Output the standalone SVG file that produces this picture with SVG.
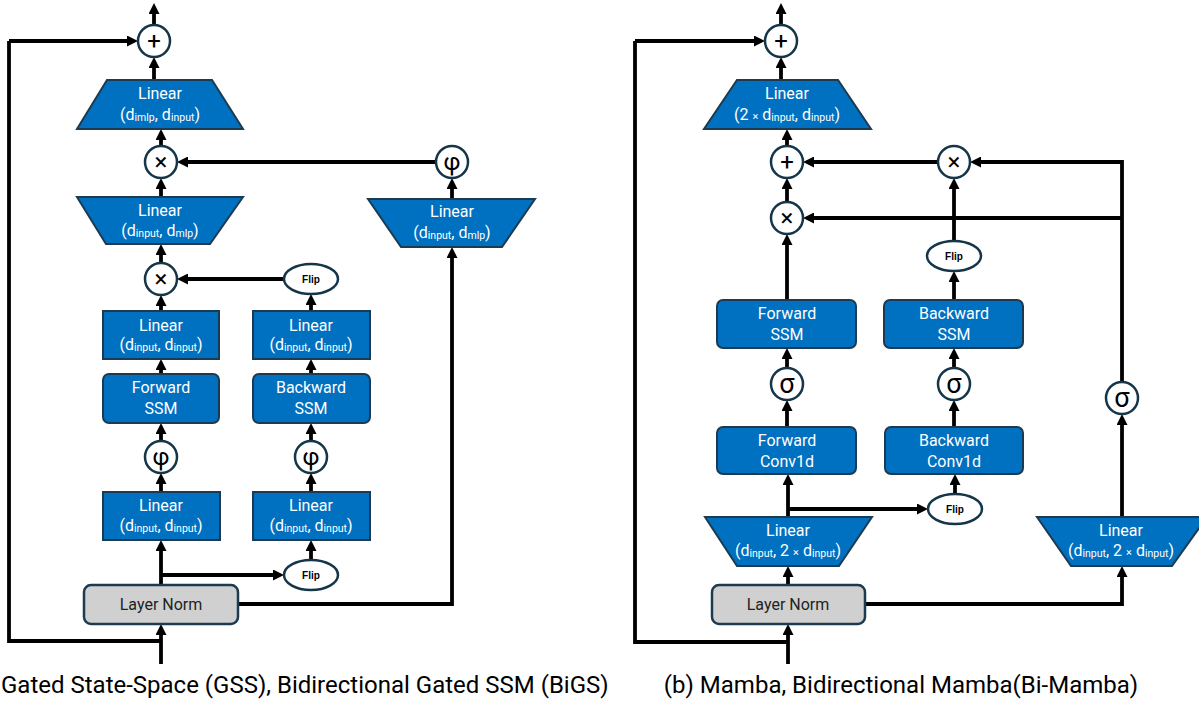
<svg xmlns="http://www.w3.org/2000/svg" width="1199" height="704" viewBox="0 0 1199 704">
<defs>
<marker id="ah" viewBox="0 0 11 11" refX="0" refY="5.5" markerWidth="11" markerHeight="11" markerUnits="userSpaceOnUse" orient="auto"><path d="M0,0 L11,5.5 L0,11 z" fill="#000"/></marker>
<style>
.blk{fill:#0070c0;stroke:#1d3b50;stroke-width:2}
.gray{fill:#d0d0d0;stroke:#1d3b50;stroke-width:2.5}
.op{fill:#fff;stroke:#153549;stroke-width:2.5}
.fl{fill:#fff;stroke:#153549;stroke-width:2.5}
text{font-family:Roboto,"Liberation Sans",sans-serif;text-anchor:middle}
.w{fill:#fff;font-size:16px}
.s{font-size:10.5px}
.x{font-size:11px}
.k{fill:#222;font-size:16px}
.sym{fill:#000;font-size:24px}
.sig{fill:#000;font-size:27px}
.flp{font-family:"Liberation Sans",Arial,sans-serif;font-weight:bold;font-size:10px;fill:#000}
.cap{fill:#000;font-size:24px}
.c{fill:none;stroke:#000;stroke-width:3.8;marker-end:url(#ah)}
.n{fill:none;stroke:#000;stroke-width:3.8}
</style>
</defs>

<g id="connectors">
<!-- left -->
<path class="c" d="M154,25 V14"/>
<path class="n" d="M161,641 H9 V41"/>
<path class="c" d="M9,41 H127"/>
<path class="c" d="M161,664 V635"/>
<path class="c" d="M154,80 V68"/>
<path class="c" d="M161,197 V189"/>
<path class="c" d="M161,146 V140"/>
<path class="c" d="M161,263 V255"/>
<path class="c" d="M161,311 V306"/>
<path class="c" d="M161,374 V370"/>
<path class="c" d="M161,441 V434"/>
<path class="c" d="M161,492 V484"/>
<path class="c" d="M161,585 V551"/>
<path class="c" d="M161,575 H273"/>
<path class="c" d="M311,560 V551"/>
<path class="c" d="M311,492 V484"/>
<path class="c" d="M311,441 V434"/>
<path class="c" d="M311,374 V370"/>
<path class="c" d="M311,311 V305"/>
<path class="c" d="M284,279 H188"/>
<path class="c" d="M238,604 H452 V258"/>
<path class="c" d="M452,199 V189"/>
<path class="c" d="M436,162 H188"/>
<!-- right -->
<path class="c" d="M781,25 V14"/>
<path class="n" d="M788,642 H635 V41"/>
<path class="c" d="M635,41 H754"/>
<path class="c" d="M788,664 V635"/>
<path class="c" d="M781,80 V68"/>
<path class="c" d="M787,146 V140"/>
<path class="c" d="M787,202 V189"/>
<path class="c" d="M787,300 V245"/>
<path class="c" d="M787,368 V359"/>
<path class="c" d="M787,427 V411"/>
<path class="c" d="M788,517 V485"/>
<path class="c" d="M788,509 H917"/>
<path class="c" d="M788,585 V577"/>
<path class="c" d="M955,493 V485"/>
<path class="c" d="M954,427 V411"/>
<path class="c" d="M954,368 V359"/>
<path class="c" d="M954,300 V282"/>
<path class="c" d="M954,241 V189"/>
<path class="c" d="M938,162 H814"/>
<path class="c" d="M1122,382 V162 H981"/>
<path class="c" d="M1122,218 H814"/>
<path class="c" d="M1122,517 V425"/>
<path class="c" d="M865,604 H1122 V577"/>
</g>

<!-- left diagram nodes -->
<g id="L_add"><circle class="op" cx="154" cy="41" r="16"/><text class="sym" x="154" y="49">+</text></g>
<g id="L_linOut"><polygon class="blk" points="107,80 212,80 243,129 77,129"/><text class="w" x="160" y="99">Linear</text><text class="w" x="160" y="120">(d<tspan class="s" dy="1">imlp</tspan><tspan dy="-1">, d</tspan><tspan class="s" dy="1">input</tspan><tspan dy="-1">)</tspan></text></g>
<g id="L_mul1"><circle class="op" cx="161" cy="162" r="16"/><text class="sym" x="161" y="170">×</text></g>
<g id="L_linMlp"><polygon class="blk" points="77,197 243,197 210,244 106,244"/><text class="w" x="160" y="216">Linear</text><text class="w" x="160" y="236">(d<tspan class="s" dy="1">input</tspan><tspan dy="-1">, d</tspan><tspan class="s" dy="1">mlp</tspan><tspan dy="-1">)</tspan></text></g>
<g id="L_mul2"><circle class="op" cx="161" cy="279" r="16"/><text class="sym" x="161" y="287">×</text></g>
<g id="L_flipTop"><ellipse class="fl" cx="311" cy="279" rx="27" ry="15"/><text class="flp" x="311" y="283">Flip</text></g>
<g id="L_linF"><rect class="blk" x="103" y="311" width="116" height="48"/><text class="w" x="161" y="331">Linear</text><text class="w" x="161" y="350">(d<tspan class="s" dy="1">input</tspan><tspan dy="-1">, d</tspan><tspan class="s" dy="1">input</tspan><tspan dy="-1">)</tspan></text></g>
<g id="L_linB"><rect class="blk" x="253" y="311" width="117" height="48"/><text class="w" x="311" y="331">Linear</text><text class="w" x="311" y="350">(d<tspan class="s" dy="1">input</tspan><tspan dy="-1">, d</tspan><tspan class="s" dy="1">input</tspan><tspan dy="-1">)</tspan></text></g>
<g id="L_ssmF"><rect class="blk" x="103" y="374" width="116" height="49" rx="6"/><text class="w" x="161" y="393">Forward</text><text class="w" x="161" y="414">SSM</text></g>
<g id="L_ssmB"><rect class="blk" x="253" y="374" width="117" height="49" rx="6"/><text class="w" x="311" y="393">Backward</text><text class="w" x="311" y="414">SSM</text></g>
<g id="L_phiF"><circle class="op" cx="161" cy="457" r="16"/><text class="sym" x="161" y="465">φ</text></g>
<g id="L_phiB"><circle class="op" cx="311" cy="457" r="16"/><text class="sym" x="311" y="465">φ</text></g>
<g id="L_linF2"><rect class="blk" x="103" y="492" width="117" height="48"/><text class="w" x="161" y="511">Linear</text><text class="w" x="161" y="531">(d<tspan class="s" dy="1">input</tspan><tspan dy="-1">, d</tspan><tspan class="s" dy="1">input</tspan><tspan dy="-1">)</tspan></text></g>
<g id="L_linB2"><rect class="blk" x="253" y="492" width="117" height="48"/><text class="w" x="311" y="511">Linear</text><text class="w" x="311" y="531">(d<tspan class="s" dy="1">input</tspan><tspan dy="-1">, d</tspan><tspan class="s" dy="1">input</tspan><tspan dy="-1">)</tspan></text></g>
<g id="L_flipBot"><ellipse class="fl" cx="311" cy="575" rx="27" ry="15"/><text class="flp" x="311" y="579">Flip</text></g>
<g id="L_norm"><rect class="gray" x="84" y="585" width="154" height="39" rx="7"/><text class="k" x="161" y="610">Layer Norm</text></g>
<g id="L_linGate"><polygon class="blk" points="368,199 535,199 502,247 401,247"/><text class="w" x="452" y="217">Linear</text><text class="w" x="452" y="238">(d<tspan class="s" dy="1">input</tspan><tspan dy="-1">, d</tspan><tspan class="s" dy="1">mlp</tspan><tspan dy="-1">)</tspan></text></g>
<g id="L_phiG"><circle class="op" cx="452" cy="162" r="16"/><text class="sym" x="452" y="170">φ</text></g>
<g id="L_caption"><text class="cap" x="1" y="693" style="text-anchor:start">Gated State-Space (GSS), Bidirectional Gated SSM (BiGS)</text></g>

<!-- right diagram nodes -->
<g id="R_add"><circle class="op" cx="781" cy="41" r="16"/><text class="sym" x="781" y="49">+</text></g>
<g id="R_linOut"><polygon class="blk" points="737,80 838,80 871,129 704,129"/><text class="w" x="787" y="99">Linear</text><text class="w" x="787" y="120">(2 <tspan class="x">×</tspan> d<tspan class="s" dy="1">input</tspan><tspan dy="-1">, d</tspan><tspan class="s" dy="1">input</tspan><tspan dy="-1">)</tspan></text></g>
<g id="R_add2"><circle class="op" cx="787" cy="162" r="16"/><text class="sym" x="787" y="170">+</text></g>
<g id="R_mul"><circle class="op" cx="787" cy="218" r="16"/><text class="sym" x="787" y="226">×</text></g>
<g id="R_mulB"><circle class="op" cx="954" cy="162" r="16"/><text class="sym" x="954" y="170">×</text></g>
<g id="R_flipTop"><ellipse class="fl" cx="954" cy="256" rx="27" ry="15"/><text class="flp" x="954" y="260">Flip</text></g>
<g id="R_ssmF"><rect class="blk" x="717" y="300" width="139" height="48" rx="6"/><text class="w" x="787" y="319">Forward</text><text class="w" x="787" y="340">SSM</text></g>
<g id="R_ssmB"><rect class="blk" x="884" y="300" width="139" height="48" rx="6"/><text class="w" x="954" y="319">Backward</text><text class="w" x="954" y="340">SSM</text></g>
<g id="R_sigF"><circle class="op" cx="787" cy="384" r="16"/><text class="sig" x="787" y="393">σ</text></g>
<g id="R_sigB"><circle class="op" cx="954" cy="384" r="16"/><text class="sig" x="954" y="393">σ</text></g>
<g id="R_sigG"><circle class="op" cx="1122" cy="398" r="16"/><text class="sig" x="1122" y="407">σ</text></g>
<g id="R_convF"><rect class="blk" x="717" y="427" width="139" height="47" rx="6"/><text class="w" x="787" y="446">Forward</text><text class="w" x="787" y="467">Conv1d</text></g>
<g id="R_convB"><rect class="blk" x="885" y="427" width="138" height="47" rx="6"/><text class="w" x="954" y="446">Backward</text><text class="w" x="954" y="467">Conv1d</text></g>
<g id="R_flipBot"><ellipse class="fl" cx="955" cy="509" rx="27" ry="15"/><text class="flp" x="955" y="513">Flip</text></g>
<g id="R_linIn"><polygon class="blk" points="705,517 872,517 839,566 737,566"/><text class="w" x="788" y="536">Linear</text><text class="w" x="788" y="556">(d<tspan class="s" dy="1">input</tspan><tspan dy="-1">, 2 </tspan><tspan class="x">×</tspan> d<tspan class="s" dy="1">input</tspan><tspan dy="-1">)</tspan></text></g>
<g id="R_linGate"><polygon class="blk" points="1037,517 1207,517 1172,566 1071,566"/><text class="w" x="1121" y="536">Linear</text><text class="w" x="1121" y="556">(d<tspan class="s" dy="1">input</tspan><tspan dy="-1">, 2 </tspan><tspan class="x">×</tspan> d<tspan class="s" dy="1">input</tspan><tspan dy="-1">)</tspan></text></g>
<g id="R_norm"><rect class="gray" x="712" y="585" width="153" height="39" rx="7"/><text class="k" x="788" y="610">Layer Norm</text></g>
<g id="R_caption"><text class="cap" x="901" y="693">(b) Mamba, Bidirectional Mamba(Bi-Mamba)</text></g>
</svg>
